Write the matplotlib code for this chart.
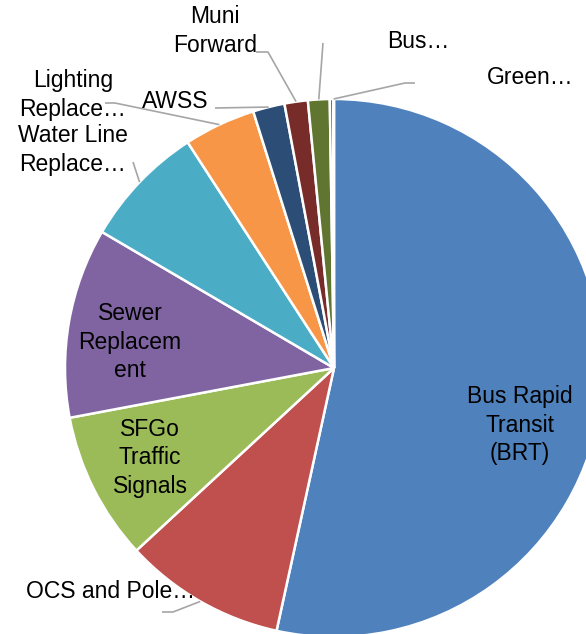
import numpy as np
import matplotlib
matplotlib.use("Agg")
import matplotlib.pyplot as plt

# category shares (percent), clockwise from 12 o'clock
categories = ["Bus Rapid Transit (BRT)", "OCS and Pole…", "SFGo Traffic Signals",
              "Sewer Replacement", "Water Line Replace…", "Lighting Replace…",
              "AWSS", "Muni Forward", "", "Bus…", "Green…"]
shares = [53.4, 9.7, 8.9, 11.4, 7.4, 4.3, 1.9, 1.4, 1.3, 0.2, 0.05]
colors = ["#4F81BD", "#C0504D", "#9BBB59", "#8064A2", "#4BACC6", "#F79646",
          "#2C4D75", "#772C2A", "#5F7530", "#4D3B62", "#276A7C"]

W, H = 586, 634
CX, CY, R = 334, 368, 269


def P(x, y):
    # pixel position (y down) -> axes data (y up)
    return x, H - y


plt.rcParams["font.family"] = ["Liberation Sans", "DejaVu Sans"]
fig = plt.figure(figsize=(W / 100, H / 100), dpi=100)
ax = fig.add_axes([0, 0, 1, 1])

wedges, _ = ax.pie(shares, colors=colors, startangle=90, counterclock=False,
                   center=P(CX, CY), radius=R, frame=True,
                   wedgeprops=dict(edgecolor="white", linewidth=1.8))
ax.set_xlim(0, W)
ax.set_ylim(0, H)
ax.set_aspect("equal")
ax.axis("off")

fs = 16.5
ls = 1.28
# labels inside the pie
inside = {0: ("Bus Rapid\nTransit\n(BRT)", (520, 425)),
          2: ("SFGo\nTraffic\nSignals", (150, 458)),
          3: ("Sewer\nReplacem\nent", (130, 342))}
for i, (txt, (x, y)) in inside.items():
    ax.text(*P(x, y), txt, ha="center", va="center", fontsize=fs,
            linespacing=ls, color="black")

# outside labels
outside = {1: ("OCS and Pole…", (111, 592)),
           4: ("Water Line\nReplace…", (73, 150)),
           5: ("Lighting\nReplace…", (73, 95)),
           6: ("AWSS", (175, 102)),
           7: ("Muni\nForward", (215, 31)),
           9: ("Bus…", (418, 42)),
           10: ("Green…", (530, 78))}
for i, (txt, (x, y)) in outside.items():
    ax.text(*P(x, y), txt, ha="center", va="center", fontsize=fs,
            linespacing=ls, color="black")

# leader lines: wedge index -> bend points (pixels), last point on the wedge
leaders = {1: [(162, 612), (173, 612)],
           4: [(133, 162)],
           5: [(105, 103), (115, 103)],
           6: [(215, 108)],
           7: [(256, 52), (268, 52)],
           8: [(323, 43)],
           10: [(415, 83), (405, 83)]}
for i, pts in leaders.items():
    w = wedges[i]
    mid = np.deg2rad((w.theta1 + w.theta2) / 2)
    ex = w.center[0] + w.r * np.cos(mid)
    ey = w.center[1] + w.r * np.sin(mid)
    xs = [P(*p)[0] for p in pts] + [ex]
    ys = [P(*p)[1] for p in pts] + [ey]
    ax.plot(xs, ys, color="#A6A6A6", linewidth=1.2, solid_capstyle="butt")

fig.savefig("out.png", dpi=100)
